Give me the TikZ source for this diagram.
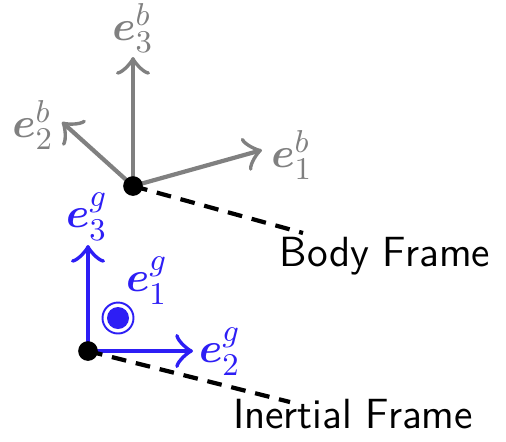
\documentclass[tikz,border=0pt]{standalone}
\usepackage{amsmath,amssymb,bm}
\usetikzlibrary{arrows.meta}
\definecolor{frameblue}{RGB}{45,30,245}
\definecolor{framegray}{RGB}{128,128,128}

\begin{document}
\begin{tikzpicture}[x=0.01cm,y=-0.01cm,font=\sffamily\fontsize{12}{14}\selectfont,
  axis/.style={-{Classical TikZ Rightarrow[scale=1.5]},line width=1.2pt},
  vec/.style={font=\fontsize{13}{15}\selectfont},
  origin/.style={circle,fill=black,inner sep=0pt,minimum size=5.6pt},
  leader/.style={dash pattern=on 4.2pt off 2.8pt,line width=1.2pt}]
\useasboundingbox (0,0) rectangle (506,441);
% body frame
\coordinate (ob) at (133,186);
\coordinate (tb1) at (262,150);
\coordinate (tb2) at (62,122);
\coordinate (tb3) at (133,57);
\draw[axis,framegray] (ob)--(tb1);
\draw[axis,framegray] (ob)--(tb2);
\draw[axis,framegray] (ob)--(tb3);
\node[vec,framegray] (eb1) at (292,155){$\bm{e}_1^b$};
\node[vec,framegray] (eb2) at (33,125){$\bm{e}_2^b$};
\node[vec,framegray] (eb3) at (133,28){$\bm{e}_3^b$};
\node (body) at (385,256){Body Frame};
\coordinate (lb) at (303,233);
\draw[leader] (ob)--(lb);
\node[origin] (dotb) at (ob){};
% inertial frame
\coordinate (og) at (88,351);
\coordinate (tg2) at (193,351);
\coordinate (tg3) at (88,245);
\draw[axis,frameblue] (og)--(tg2);
\draw[axis,frameblue] (og)--(tg3);
\node[vec,frameblue] (eg1) at (147,281){$\bm{e}_1^g$};
\node[vec,frameblue] (eg2) at (220,352){$\bm{e}_2^g$};
\node[vec,frameblue] (eg3) at (87,217){$\bm{e}_3^g$};
\draw[frameblue,line width=0.55pt] (118,318) circle(15.5);
\fill[frameblue] (118,318) circle(11);
\node (inertial) at (353,414){Inertial Frame};
\coordinate (lg) at (290,402);
\draw[leader] (og)--(lg);
\node[origin] (dotg) at (og){};
\end{tikzpicture}
\end{document}
